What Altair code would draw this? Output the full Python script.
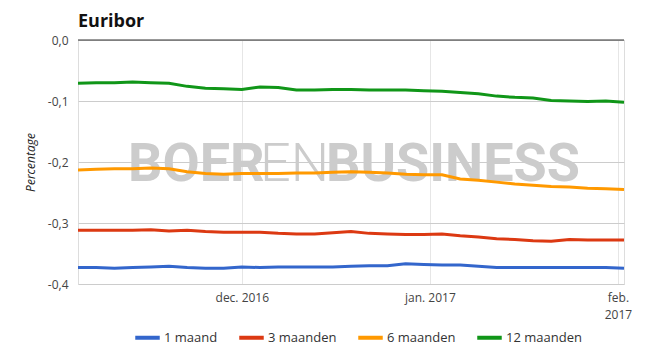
import altair as alt
import pandas as pd

dates = [
    "2016-11-04", "2016-11-07", "2016-11-10", "2016-11-13", "2016-11-16", "2016-11-19",
    "2016-11-22", "2016-11-25", "2016-11-28", "2016-12-01", "2016-12-04", "2016-12-07",
    "2016-12-10", "2016-12-13", "2016-12-16", "2016-12-19", "2016-12-22", "2016-12-25",
    "2016-12-28", "2016-12-31", "2017-01-03", "2017-01-06", "2017-01-09", "2017-01-12",
    "2017-01-15", "2017-01-18", "2017-01-21", "2017-01-24", "2017-01-27", "2017-01-30",
    "2017-02-02",
]
maand_1 = [
    -0.373, -0.373, -0.374, -0.373, -0.372, -0.371, -0.373, -0.374, -0.374, -0.372, -0.373,
    -0.372, -0.372, -0.372, -0.372, -0.371, -0.370, -0.370, -0.367, -0.368, -0.369, -0.369,
    -0.371, -0.373, -0.373, -0.373, -0.373, -0.373, -0.373, -0.373, -0.374,
]
maanden_3 = [
    -0.312, -0.312, -0.312, -0.312, -0.311, -0.313, -0.312, -0.314, -0.315, -0.315, -0.315,
    -0.317, -0.318, -0.318, -0.316, -0.314, -0.317, -0.318, -0.319, -0.319, -0.318, -0.321,
    -0.323, -0.326, -0.327, -0.329, -0.330, -0.327, -0.328, -0.328, -0.328,
]
maanden_6 = [
    -0.213, -0.212, -0.211, -0.211, -0.210, -0.211, -0.216, -0.219, -0.220, -0.219, -0.219,
    -0.219, -0.218, -0.218, -0.217, -0.216, -0.217, -0.218, -0.220, -0.221, -0.221, -0.228,
    -0.230, -0.233, -0.236, -0.238, -0.240, -0.241, -0.243, -0.244, -0.245,
]
maanden_12 = [
    -0.071, -0.070, -0.070, -0.069, -0.070, -0.071, -0.076, -0.079, -0.080, -0.081, -0.077,
    -0.078, -0.082, -0.082, -0.081, -0.081, -0.082, -0.082, -0.082, -0.083, -0.084, -0.086,
    -0.088, -0.092, -0.094, -0.095, -0.099, -0.100, -0.101, -0.100, -0.102,
]
series_names = ["1 maand", "3 maanden", "6 maanden", "12 maanden"]
series_colors = ["#3366cc", "#dc3912", "#ff9900", "#109618"]
y_ticks = [0.0, -0.1, -0.2, -0.3, -0.4]
chart_title = "Euribor"
watermark_parts = ["BOER", "EN", "BUSINESS"]

rows = []
for name, vals in zip(series_names, [maand_1, maanden_3, maanden_6, maanden_12]):
    for d, v in zip(dates, vals):
        rows.append({"datum": d, "reeks": name, "waarde": v})
df = pd.DataFrame(rows)

x_scale = alt.Scale(
    type="utc",
    domain=[alt.DateTime(year=2016, month=11, date=4, utc=True),
            alt.DateTime(year=2017, month=2, date=2, utc=True)],
)
x_axis = alt.Axis(
    title=None,
    values=[alt.DateTime(year=2016, month=12, date=1, utc=True),
            alt.DateTime(year=2017, month=1, date=1, utc=True),
            alt.DateTime(year=2017, month=2, date=1, utc=True)],
    labelExpr="utcmonth(datum.value)==11 ? 'dec. 2016' : (utcmonth(datum.value)==0 ? 'jan. 2017' : ['feb.', '2017'])",
    domain=False, ticks=False, grid=True, gridColor="#e6e6e6",
    labelFont="Open Sans", labelFontSize=12, labelColor="#444444", labelPadding=8,
    labelLineHeight=17,
)
y_axis = alt.Axis(
    title="Percentage", titleFont="Open Sans", titleFontStyle="italic", titleFontWeight="normal",
    titleFontSize=12, titleColor="#222222", titlePadding=10,
    values=y_ticks,
    labelExpr="replace(replace(format(datum.value, '.1f'), '.', ','), '\u2212', '-')",
    domain=False, ticks=False, grid=True, gridColor="#cccccc",
    labelFont="Open Sans", labelFontSize=12, labelColor="#444444", labelPadding=10,
)

lines = alt.Chart(df).mark_line(strokeWidth=3, clip=True).encode(
    x=alt.X("datum:T", scale=x_scale, axis=x_axis),
    y=alt.Y("waarde:Q", scale=alt.Scale(domain=[-0.4, 0.0], nice=False), axis=y_axis),
    color=alt.Color(
        "reeks:N",
        scale=alt.Scale(domain=series_names, range=series_colors),
        sort=series_names,
        legend=alt.Legend(
            title=None, orient="none", direction="horizontal", legendX=55, legendY=283,
            symbolType="stroke", symbolStrokeWidth=4, symbolSize=600,
            labelFont="Open Sans", labelFontSize=13, labelColor="#333333",
            columnPadding=13, labelOffset=2,
        ),
    ),
)

zero = alt.Chart(pd.DataFrame({"y": [0.0]})).mark_rule(color="#333333", strokeWidth=1).encode(
    y=alt.Y("y:Q")
)

wm_style = dict(color="#cccccc", font="Roboto", fontSize=54, baseline="alphabetic", align="left")


def text_layer(txt, **kw):
    return alt.Chart(pd.DataFrame({"t": [txt]})).mark_text(**kw).encode(text="t:N")


wm1 = text_layer(watermark_parts[0], fontWeight="bold", **wm_style).encode(
    x=alt.value(50), y=alt.value(141))
wm2 = text_layer(watermark_parts[1], fontWeight=300, **wm_style).encode(
    x=alt.value(182), y=alt.value(141))
wm3 = text_layer(watermark_parts[2], fontWeight="bold", **wm_style).encode(
    x=alt.value(248), y=alt.value(141))

title_mark = text_layer(
    chart_title, font="Open Sans", fontSize=18, fontWeight="bold", color="#111111",
    align="left", baseline="alphabetic",
).encode(x=alt.value(0), y=alt.value(-13))

chart = alt.layer(wm1, wm2, wm3, lines, zero, title_mark).properties(
    width=546, height=244,
    autosize=alt.AutoSizeParams(type="none"),
    padding={"left": 78, "top": 40, "right": 44, "bottom": 68},
).configure_view(stroke=None).configure(background="white")

chart.save("out.html", embed_options={"renderer": "svg", "actions": False})
